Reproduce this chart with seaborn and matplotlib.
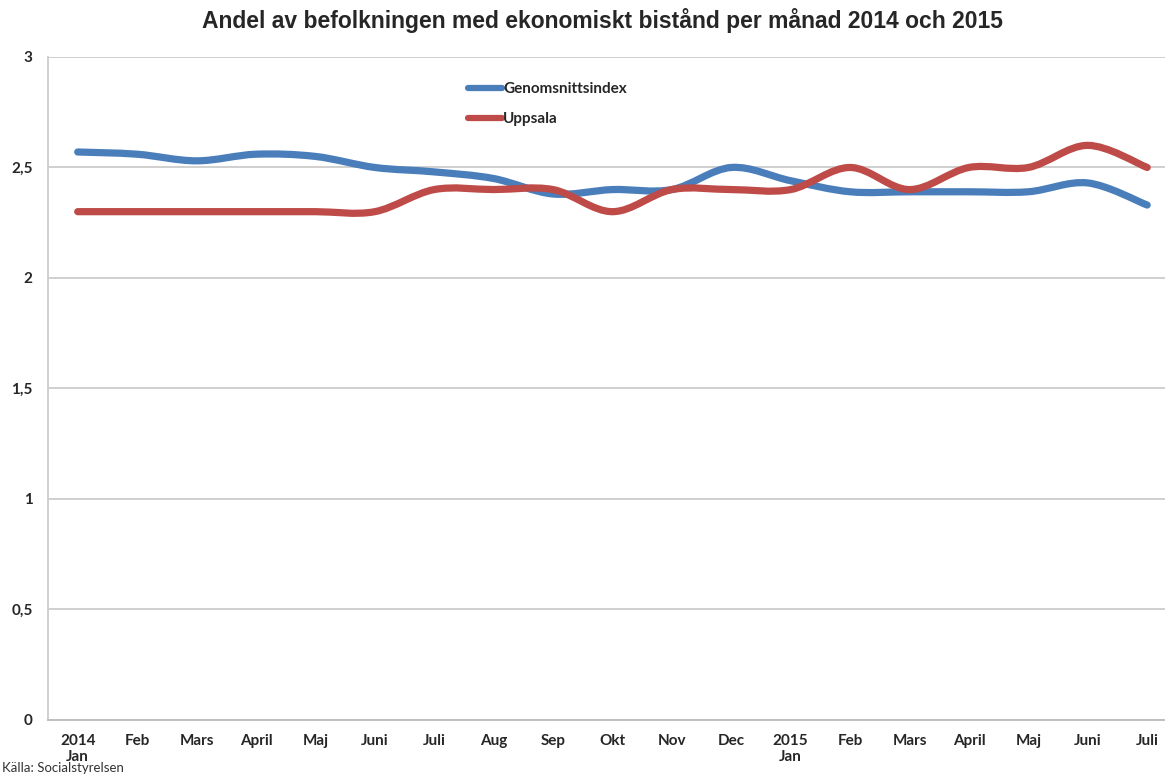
import matplotlib.pyplot as plt
import seaborn as sns
from matplotlib.path import Path
from matplotlib.patches import PathPatch
from matplotlib.lines import Line2D

months = ['2014\nJan', 'Feb', 'Mars', 'April', 'Maj', 'Juni', 'Juli', 'Aug', 'Sep',
          'Okt', 'Nov', 'Dec', '2015\nJan', 'Feb', 'Mars', 'April', 'Maj', 'Juni', 'Juli']
genomsnitt = [2.57, 2.56, 2.53, 2.56, 2.55, 2.50, 2.48, 2.45, 2.38, 2.40,
              2.40, 2.50, 2.44, 2.39, 2.39, 2.39, 2.39, 2.43, 2.33]
uppsala = [2.30, 2.30, 2.30, 2.30, 2.30, 2.30, 2.40, 2.40, 2.40, 2.30,
           2.40, 2.40, 2.40, 2.50, 2.40, 2.50, 2.50, 2.60, 2.50]
yticks = [0, 0.5, 1, 1.5, 2, 2.5, 3]
ytick_labels = ['0', '0,5', '1', '1,5', '2', '2,5', '3']

blue = '#4A7EBB'
red = '#BE4B48'

sns.set_theme(style='white')
plt.rcParams['font.family'] = ['Lato', 'DejaVu Sans']


def smooth_path(ys):
    # Excel-style smoothed line: cubic bezier through every point
    xs = list(range(len(ys)))
    verts = [(xs[0], ys[0])]
    codes = [Path.MOVETO]
    n = len(ys)
    for i in range(n - 1):
        x0, y0 = xs[max(i - 1, 0)], ys[max(i - 1, 0)]
        x1, y1 = xs[i], ys[i]
        x2, y2 = xs[i + 1], ys[i + 1]
        x3, y3 = xs[min(i + 2, n - 1)], ys[min(i + 2, n - 1)]
        c1 = (x1 + (x2 - x0) / 6, y1 + (y2 - y0) / 6)
        c2 = (x2 - (x3 - x1) / 6, y2 - (y3 - y1) / 6)
        verts += [c1, c2, (x2, y2)]
        codes += [Path.CURVE4] * 3
    return Path(verts, codes)


fig = plt.figure(figsize=(11.65, 7.74), dpi=100)
ax = fig.add_axes([0.0412, 0.0698, 0.969, 0.8566])

for ys, col in [(genomsnitt, blue), (uppsala, red)]:
    ax.add_patch(PathPatch(smooth_path(ys), facecolor='none', edgecolor=col,
                           lw=5.2, capstyle='round', joinstyle='round', zorder=3))

ax.set_xlim(-0.5, len(months) - 0.5)
ax.set_ylim(0, 3)
ax.set_xticks(range(len(months)))
ax.set_xticklabels(months, fontweight='bold', fontsize=11)
ax.set_yticks(yticks)
ax.set_yticklabels(ytick_labels, fontweight='bold', fontsize=11)
ax.tick_params(axis='x', length=0, pad=10)
ax.tick_params(axis='y', length=0, pad=11)
ax.grid(axis='y', color='#CFCFCF', lw=1.4)
ax.grid(axis='x', visible=False)
for side in ['top', 'right']:
    ax.spines[side].set_visible(False)
ax.spines['left'].set_color('#CFCFCF')
ax.spines['bottom'].set_color('#BFBFBF')
ax.spines['left'].set_linewidth(1.4)
ax.spines['bottom'].set_linewidth(1.4)

handles = [Line2D([], [], color=blue, lw=4.5, solid_capstyle='round'),
           Line2D([], [], color=red, lw=4.5, solid_capstyle='round')]
ax.legend(handles, ['Genomsnittsindex', 'Uppsala'], loc='upper left',
          bbox_to_anchor=(0.372, 0.962), frameon=False, borderpad=0,
          borderaxespad=0, handlelength=2.2, handletextpad=0.1,
          labelspacing=1.05, prop={'weight': 'bold', 'size': 11})

fig.suptitle('Andel av befolkningen med ekonomiskt bistånd per månad 2014 och 2015',
             x=0.517, y=0.99, fontsize=16.5, fontweight='bold',
             family=['Liberation Sans', 'DejaVu Sans'])
fig.text(0.002, 0.003, 'Källa: Socialstyrelsen', fontsize=9.5, color='#333333')

fig.savefig('out.png', dpi=100, facecolor='white')
